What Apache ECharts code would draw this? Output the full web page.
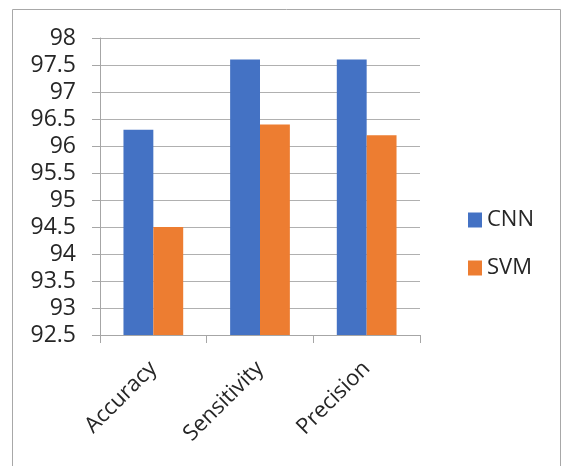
<!DOCTYPE html>
<html><head><meta charset="utf-8">
<script src="https://cdn.jsdelivr.net/npm/echarts@6/dist/echarts.min.js"></script>
<style>html,body{margin:0;padding:0;background:#fff}#c{width:562px;height:466px}</style>
</head><body><div id="c"></div>
<script>
var categories = ['Accuracy', 'Sensitivity', 'Precision'];
var cnnValues = [96.3, 97.6, 97.6];
var svmValues = [94.5, 96.4, 96.2];
var seriesNames = ['CNN', 'SVM'];

var chart = echarts.init(document.getElementById('c'), null, {renderer: 'canvas'});
var font = '"Open Sans", "Liberation Sans", sans-serif';
chart.setOption({
  backgroundColor: '#fff',
  animation: false,
  graphic: [{
    type: 'rect', shape: {x: 12.5, y: 9.5, width: 548, height: 470},
    style: {fill: 'none', stroke: '#a8a8a8', lineWidth: 1}, silent: true
  }],
  grid: {left: 100, right: 142, top: 38, bottom: 131},
  legend: {
    orient: 'vertical', left: 463, top: 204,
    itemWidth: 14, itemHeight: 15, itemGap: 26, icon: 'rect',
    textStyle: {fontFamily: font, fontSize: 22, color: '#262626'},
    data: seriesNames
  },
  xAxis: {
    type: 'category', data: categories,
    axisLine: {lineStyle: {color: '#a6a6a6', width: 1}},
    axisTick: {show: true, alignWithLabel: false, length: 8, lineStyle: {color: '#a6a6a6'}},
    axisLabel: {rotate: 45, fontFamily: font, fontSize: 22, color: '#262626', margin: 30, interval: 0}
  },
  yAxis: {
    type: 'value', min: 92.5, max: 98, interval: 0.5,
    axisLine: {show: true, lineStyle: {color: '#a6a6a6'}},
    axisTick: {show: true, inside: false, length: 8, lineStyle: {color: '#a6a6a6'}},
    splitLine: {lineStyle: {color: '#b0b0b0', width: 1}},
    axisLabel: {fontFamily: font, fontSize: 23, color: '#262626', margin: 24,
      formatter: function (v) { return String(Math.round(v * 10) / 10); }}
  },
  series: [
    {name: seriesNames[0], type: 'bar', data: cnnValues, barGap: '0%', barCategoryGap: '44%',
     itemStyle: {color: '#4472c4'}},
    {name: seriesNames[1], type: 'bar', data: svmValues, barGap: '0%', barCategoryGap: '44%',
     itemStyle: {color: '#ed7d31'}}
  ]
});
</script></body></html>
